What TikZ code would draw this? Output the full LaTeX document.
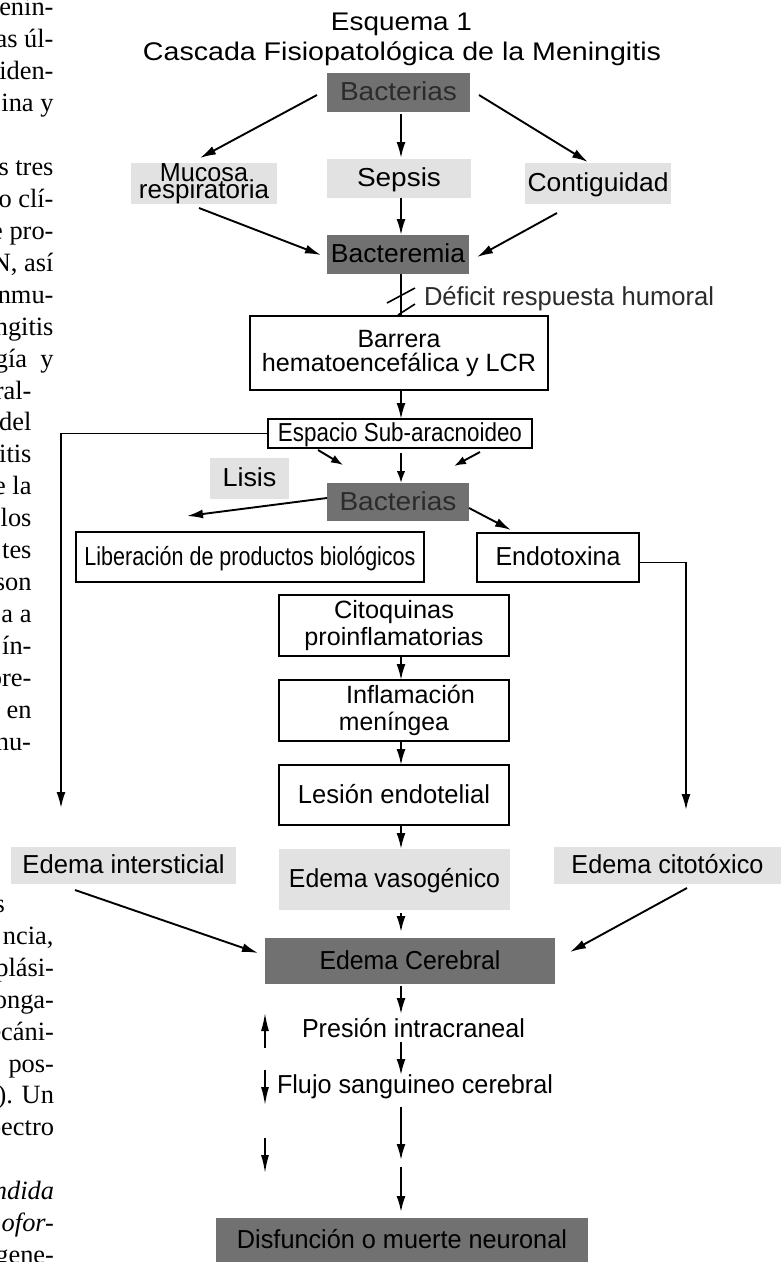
\documentclass[tikz,border=0pt]{standalone}
\usepackage{fontspec}
\usepackage{graphicx}
\setmainfont{Liberation Sans}
\newfontfamily\seriffont{Liberation Serif}
\usetikzlibrary{arrows.meta,calc}
\lineskiplimit=-100pt
\lineskip=0pt
\newcommand{\fw}[2]{\resizebox{#1pt}{\height}{#2}}
\definecolor{dk}{HTML}{717171}
\definecolor{lt}{HTML}{E2E2E2}
\definecolor{dtx}{HTML}{2B2B2B}
\begin{document}
\begin{tikzpicture}[x=1pt,y=-1pt,
 every node/.style={inner sep=0pt,outer sep=0pt},
 sz/.style 2 args={minimum width=#1pt,minimum height=#2pt},
 fnt/.style={font=\fontsize{26}{26}\selectfont},
 one/.style={text height=19pt,text depth=3pt},
 boxdark/.style={fill=dk,fnt,one},
 boxlight/.style={fill=lt,fnt,one},
 boxframe/.style={draw=black,line width=1.9pt,fill=white,fnt,one},
 boxframeml/.style={draw=black,line width=1.9pt,fill=white,align=center},
 boxlightml/.style={fill=lt,align=center},
 arr/.style={line width=1.9pt,-{Latex[length=16pt,width=9pt]}},
 sharr/.style={line width=1.9pt,-{Latex[length=12pt,width=8.5pt]}},
 plain/.style={line width=1.9pt},
 smallarr/.style={line width=1.6pt,-{Latex[length=18pt,width=8pt]}},
 leftxt/.style={anchor=base east,font=\seriffont\fontsize{26.4}{26.4}\selectfont},
 leftit/.style={anchor=base east,font=\seriffont\itshape\fontsize{26.4}{26.4}\selectfont}
]
\fill[white] (0,0) rectangle (781,1262);
\useasboundingbox (0,0) rectangle (781,1262);
\clip (0,0) rectangle (781,1262);

% ---- left page text fragments ----
\node[leftxt] (la0) at (53.5,15) {enin-};
\node[leftxt] (la1) at (53.5,47) {as úl-};
\node[leftxt] (la2) at (53.5,79) {iden-};
\node[leftxt] (la3) at (53.5,111) {ina y};
\node[leftxt] (la5) at (53.5,175) {s tres};
\node[leftxt] (la6) at (53.5,207) {o clí-};
\node[leftxt] (la7) at (53.5,239) {e pro-};
\node[leftxt] (la8) at (53.5,271) {N, así};
\node[leftxt] (la9) at (53.5,303) {nmu-};
\node[leftxt] (la10) at (53.5,335) {ngitis};
\node[leftxt] (la11) at (53.5,367) {gía\hspace{0.5em}y};
\node[leftxt] (la12) at (31.5,399) {ral-};
\node[leftxt] (la13) at (31.5,430) {del};
\node[leftxt] (la14) at (31.5,462) {itis};
\node[leftxt] (la15) at (31.5,494) {e la};
\node[leftxt] (la16) at (31.5,526) {los};
\node[leftxt] (la17) at (31.5,558) {tes};
\node[leftxt] (la18) at (31.5,590) {son};
\node[leftxt] (la19) at (31.5,622) {a a};
\node[leftxt] (la20) at (31.5,654) {ín-};
\node[leftxt] (la21) at (31.5,686) {ore-};
\node[leftxt] (la22) at (31.5,718) {en};
\node[leftxt] (la23) at (31,750) {nu-};

\node[leftxt] (lb0) at (5,912) {s};
\node[leftxt] (lb1) at (53.5,944) {ncia,};
\node[leftxt] (lb2) at (54,976) {plási-};
\node[leftxt] (lb3) at (54,1008) {onga-};
\node[leftxt] (lb4) at (54,1040) {ecáni-};
\node[leftxt] (lb5) at (54,1072) {pos-};
\node[leftxt] (lb6) at (54,1103) {). Un};
\node[leftxt] (lb7) at (54,1135) {pectro};
\node[leftit] (lb9) at (54,1199) {ndida};
\node[leftit] (lb10) at (54,1231) {ofor-};
\node[leftxt] (lb11) at (54,1263) {gene-};

% ---- title ----
\node[font=\fontsize{25.5}{25.5}\selectfont,anchor=base] (tit1) at (401.5,30) {\fw{141}{Esquema 1}};
\node[font=\fontsize{25.5}{25.5}\selectfont,anchor=base] (tit2) at (402,60) {\fw{518}{Cascada Fisiopatológica de la Meningitis}};

% ---- boxes ----
\node[boxdark,sz={143}{39},text=dtx] (bac1) at (398.5,92.5) {\fw{117}{Bacterias}};
\node[boxlightml,sz={146}{41},font=\fontsize{26}{17}\selectfont] (muc) at (204,183.5) {\fw{88}{Mucosa}\\\fw{130}{respiratoria}};
\node[boxlight,sz={144}{39}] (sep) at (399,178.5) {\fw{84}{Sepsis}};
\node[boxlight,sz={146}{41}] (con) at (598,183.5) {\fw{141}{Contiguidad}};
\node[boxdark,sz={142}{39}] (btm) at (398,254.5) {\fw{134}{Bacteremia}};
\node[boxframeml,sz={298}{74},font=\fontsize{25}{24}\selectfont] (bar) at (399,353) {\fw{83}{Barrera}\\\fw{274}{hematoencefálica y LCR}};
\node[boxframe,sz={264}{29}] (esp) at (400,433.5) {\fw{244}{Espacio Sub-aracnoideo}};
\node[boxlight,sz={79}{41}] (lis) at (249.5,478.5) {\fw{54}{Lisis}};
\node[boxdark,sz={142}{38},text=dtx] (bac2) at (398,502) {\fw{117}{Bacterias}};
\node[boxframe,sz={348}{50}] (lib) at (250,557) {\fw{331}{Liberación de productos biológicos}};
\node[boxframe,sz={162}{49}] (endo) at (558,557.5) {\fw{125}{Endotoxina}};
\node[boxframeml,sz={230}{61},font=\fontsize{25}{27}\selectfont] (cito) at (394,625.5) {\fw{120}{Citoquinas}\\\fw{179}{proinflamatorias}};
\node[boxframeml,sz={230}{61},font=\fontsize{25}{27}\selectfont] (infl) at (394,710.5) {\hspace*{33pt}\fw{129}{Inflamación}\\\fw{110}{meníngea}};
\node[boxframe,sz={230}{60}] (les) at (394,795) {\fw{192}{Lesión endotelial}};
\node[boxlight,sz={231}{61}] (evas) at (394.5,879.5) {\fw{211}{Edema vasogénico}};
\node[boxlight,sz={225}{37}] (eint) at (123.5,865.5) {\fw{202}{Edema intersticial}};
\node[boxlight,sz={227}{37}] (ecit) at (667.5,865.5) {\fw{192}{Edema citotóxico}};
\node[boxdark,sz={290}{46}] (ecer) at (410,961) {\fw{181}{Edema Cerebral}};
\node[boxdark,sz={372}{44}] (disf) at (402,1240) {\fw{330}{Disfunción o muerte neuronal}};

% ---- free texts ----
\node[fnt,anchor=base west,text=dtx] (def) at (424,305) {\fw{290}{Déficit respuesta humoral}};
\node[fnt,anchor=base west] (pres) at (302,1037) {\fw{223}{Presión intracraneal}};
\node[fnt,anchor=base west] (flu) at (277,1093) {\fw{276}{Flujo sanguineo cerebral}};

% ---- connectors ----
\coordinate (ax) at (401,0);
\draw[arr] ($(bac1.west)+(-10,2.5)$) -- ($(muc.north)+(-4,-5)$);
\draw[arr] ($(bac1.south -| ax)+(0,2)$) -- ($(sep.north -| ax)+(0,-1)$);
\draw[arr] ($(bac1.east)+(9,2.5)$) -- ($(con.north)+(-10,-1)$);
\draw[arr] ($(muc.south)+(-5,4)$) -- ($(btm.west)+(-6,0.5)$);
\draw[arr] (sep.south -| ax) -- (btm.north -| ax);
\draw[arr] ($(con.south)+(-41,9)$) -- ($(btm.east)+(8,2.5)$);
\draw[plain] (btm.south -| ax) -- (bar.north -| ax);
\draw[line width=1.6pt] ($(bar.north -| ax)+(-14,-13)$) -- ($(bar.north -| ax)+(14,-28)$);
\draw[line width=1.6pt] ($(bar.north -| ax)+(-3,-1)$) -- ($(bar.north -| ax)+(14,-12)$);
\draw[arr] (bar.south -| ax) -- (esp.north -| ax);
\coordinate (c1) at (61,808);
\draw[arr] (esp.west) -| (c1);
\draw[sharr] ($(esp.south)+(-82,2)$) -- ($(bac2.north)+(-55,-18)$);
\draw[sharr] ($(esp.south -| ax)+(0,5)$) -- (bac2.north -| ax);
\draw[sharr] ($(esp.south)+(80,4)$) -- ($(bac2.north)+(56,-17)$);
\draw[arr] ($(bac2.west)+(0,-4)$) -- ($(lib.north)+(-63,-16)$);
\draw[arr] ($(bac2.east)+(0,6)$) -- ($(endo.north)+(-47,-3)$);
\coordinate (c2) at (686,810);
\draw[arr] ($(endo.east)+(0,5)$) -| (c2);
\draw[arr] (cito.south -| ax) -- (infl.north -| ax);
\draw[arr] (infl.south -| ax) -- (les.north -| ax);
\draw[arr] (les.south -| ax) -- (evas.north -| ax);
\draw[arr] ($(evas.south -| ax)+(0,3)$) -- ($(ecer.north -| ax)+(0,-6)$);
\draw[arr] ($(eint.south)+(-48.5,6)$) -- ($(ecer.west)+(-7,-8)$);
\draw[arr] ($(ecit.south)+(19.5,4)$) -- ($(ecer.east)+(15,-9)$);
\draw[arr] ($(ecer.south -| ax)+(0,2)$) -- ($(pres.base -| ax)+(0,-23)$);
\draw[arr] ($(pres.base -| ax)+(0,5)$) -- ($(flu.base -| ax)+(0,-18)$);
\coordinate (c3) at (401,1160);
\draw[arr] ($(flu.base -| ax)+(0,14)$) -- (c3);
\coordinate (c4) at (401,1167);
\draw[arr] (c4) -- ($(disf.north -| ax)+(0,-6)$);

% ---- side arrows ----
\coordinate (u1) at (265,1048);
\coordinate (u2) at (265,1013);
\draw[smallarr] (u1) -- (u2);
\coordinate (d1) at (265,1070);
\coordinate (d2) at (265,1105);
\draw[smallarr] (d1) -- (d2);
\coordinate (d3) at (265,1138);
\coordinate (d4) at (265,1173);
\draw[smallarr] (d3) -- (d4);
\end{tikzpicture}
\end{document}
